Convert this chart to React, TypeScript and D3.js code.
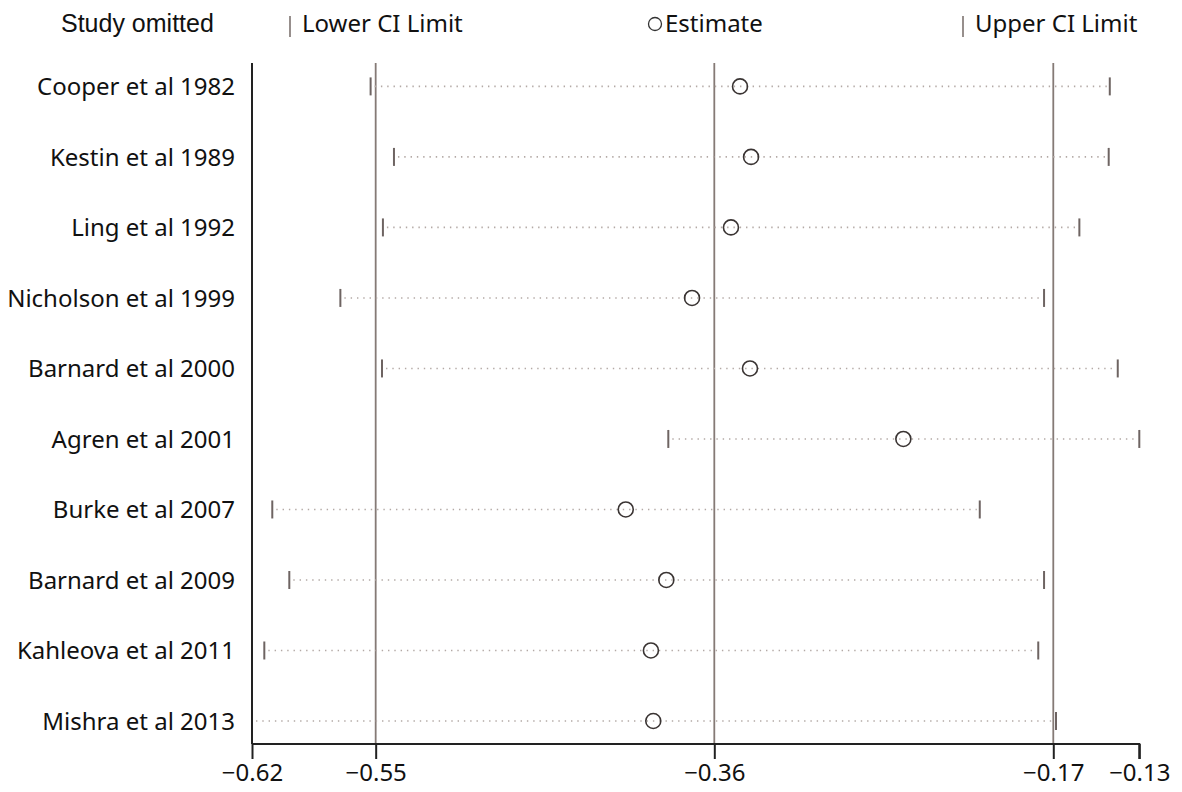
import { useEffect, useRef } from 'react'
import * as d3 from 'd3'

const STUDIES = [
  'Cooper et al 1982',
  'Kestin et al 1989',
  'Ling et al 1992',
  'Nicholson et al 1999',
  'Barnard et al 2000',
  'Agren et al 2001',
  'Burke et al 2007',
  'Barnard et al 2009',
  'Kahleova et al 2011',
  'Mishra et al 2013',
]
const LOWER = [-0.5545, -0.5416, -0.5477, -0.5712, -0.5482, -0.3901, -0.6088, -0.5994, -0.6132, -0.62]
const ESTIMATE = [-0.3505, -0.3444, -0.3555, -0.377, -0.345, -0.2603, -0.4136, -0.3912, -0.3997, -0.3984]
const UPPER = [-0.1463, -0.1469, -0.1631, -0.1826, -0.1419, -0.13, -0.2181, -0.1826, -0.1858, -0.176]

// pooled estimate with CI, drawn as vertical reference lines
const REF_LINES = [-0.5517, -0.3647, -0.1775]
const TICK_VALUES = [-0.62, -0.5517, -0.3647, -0.1775, -0.13]
const TICK_LABELS = ['\u22120.62', '\u22120.55', '\u22120.36', '\u22120.17', '\u22120.13']

const FONT = '"Noto Sans", "Open Sans", sans-serif'

export default function App() {
  const svgRef = useRef<SVGSVGElement>(null)

  useEffect(() => {
    if (!svgRef.current) return
    const svg = d3.select(svgRef.current)
    svg.selectAll('*').remove()

    const left = 252
    const right = 1139.3
    const top = 63
    const bottom = 744

    const x = d3.scaleLinear().domain([-0.62, -0.13]).range([left, right])
    const y = d3.scalePoint<string>().domain(STUDIES).range([86.4, 721])

    const rows = STUDIES.map((s, i) => ({ s, lo: LOWER[i], est: ESTIMATE[i], hi: UPPER[i] }))

    // header / legend
    const header = svg.append('g').attr('font-family', FONT).attr('font-size', 24).attr('fill', '#111')
    header.append('text').attr('x', 61).attr('y', 32)
      .attr('font-family', '"Liberation Sans", Arial, sans-serif').attr('font-size', 25)
      .text('Study omitted')
    header.append('line').attr('x1', 290).attr('x2', 290).attr('y1', 16).attr('y2', 37)
      .attr('stroke', '#7d7370').attr('stroke-width', 1.6)
    header.append('text').attr('x', 302).attr('y', 32).text('Lower CI Limit')
    header.append('circle').attr('cx', 655).attr('cy', 24).attr('r', 6.5)
      .attr('fill', 'none').attr('stroke', '#333').attr('stroke-width', 1.3)
    header.append('text').attr('x', 665).attr('y', 32).text('Estimate')
    header.append('line').attr('x1', 963).attr('x2', 963).attr('y1', 16).attr('y2', 37)
      .attr('stroke', '#7d7370').attr('stroke-width', 1.6)
    header.append('text').attr('x', 975).attr('y', 32).text('Upper CI Limit')

    // reference lines
    svg.append('g').selectAll('line').data(REF_LINES).join('line')
      .attr('x1', (d) => x(d)).attr('x2', (d) => x(d))
      .attr('y1', top).attr('y2', bottom)
      .attr('stroke', '#857a76').attr('stroke-width', 1.8)

    // dotted CI lines
    svg.append('g').selectAll('line').data(rows).join('line')
      .attr('x1', (d) => x(d.lo) + 4).attr('x2', (d) => x(d.hi) - 3)
      .attr('y1', (d) => y(d.s)!).attr('y2', (d) => y(d.s)!)
      .attr('stroke', '#b3a9a5').attr('stroke-width', 1.6)
      .attr('stroke-dasharray', '1.4,4.9')

    // CI limit ticks
    const ticks = svg.append('g')
    ticks.selectAll('line.lo').data(rows).join('line').attr('class', 'lo')
      .attr('x1', (d) => x(d.lo)).attr('x2', (d) => x(d.lo))
      .attr('y1', (d) => y(d.s)! - 9).attr('y2', (d) => y(d.s)! + 9)
      .attr('stroke', '#6e6462').attr('stroke-width', 2)
    ticks.selectAll('line.hi').data(rows).join('line').attr('class', 'hi')
      .attr('x1', (d) => x(d.hi)).attr('x2', (d) => x(d.hi))
      .attr('y1', (d) => y(d.s)! - 9).attr('y2', (d) => y(d.s)! + 9)
      .attr('stroke', '#6e6462').attr('stroke-width', 2)

    // estimates
    svg.append('g').selectAll('circle').data(rows).join('circle')
      .attr('cx', (d) => x(d.est)).attr('cy', (d) => y(d.s)!)
      .attr('r', 7.5).attr('fill', 'none')
      .attr('stroke', '#3a3433').attr('stroke-width', 1.6)

    // left spine
    svg.append('line').attr('x1', left).attr('x2', left).attr('y1', top).attr('y2', bottom)
      .attr('stroke', '#222').attr('stroke-width', 2)

    // bottom axis
    const axis = svg.append('g')
      .attr('transform', `translate(0,${bottom})`)
      .call(
        d3.axisBottom(x)
          .tickValues(TICK_VALUES)
          .tickFormat((_d, i) => TICK_LABELS[i])
          .tickSize(15)
          .tickPadding(5)
      )
    axis.select('.domain').attr('stroke', '#222').attr('stroke-width', 2)
      .attr('d', `M${left},0H${right}V15`)
    axis.selectAll('.tick line').attr('stroke', '#222').attr('stroke-width', 2)
    axis.selectAll('.tick text')
      .attr('font-family', FONT).attr('font-size', 24).attr('fill', '#111')

    // study labels
    svg.append('g').selectAll('text').data(STUDIES).join('text')
      .attr('x', 235).attr('y', (d) => y(d)!)
      .attr('dy', '0.36em').attr('text-anchor', 'end')
      .attr('font-family', FONT).attr('font-size', 24).attr('fill', '#111')
      .text((d) => d)
  }, [])

  return (
    <svg
      ref={svgRef}
      width={1182}
      height={792}
      style={{ position: 'absolute', left: 0, top: 0, background: '#fff' }}
    />
  )
}
